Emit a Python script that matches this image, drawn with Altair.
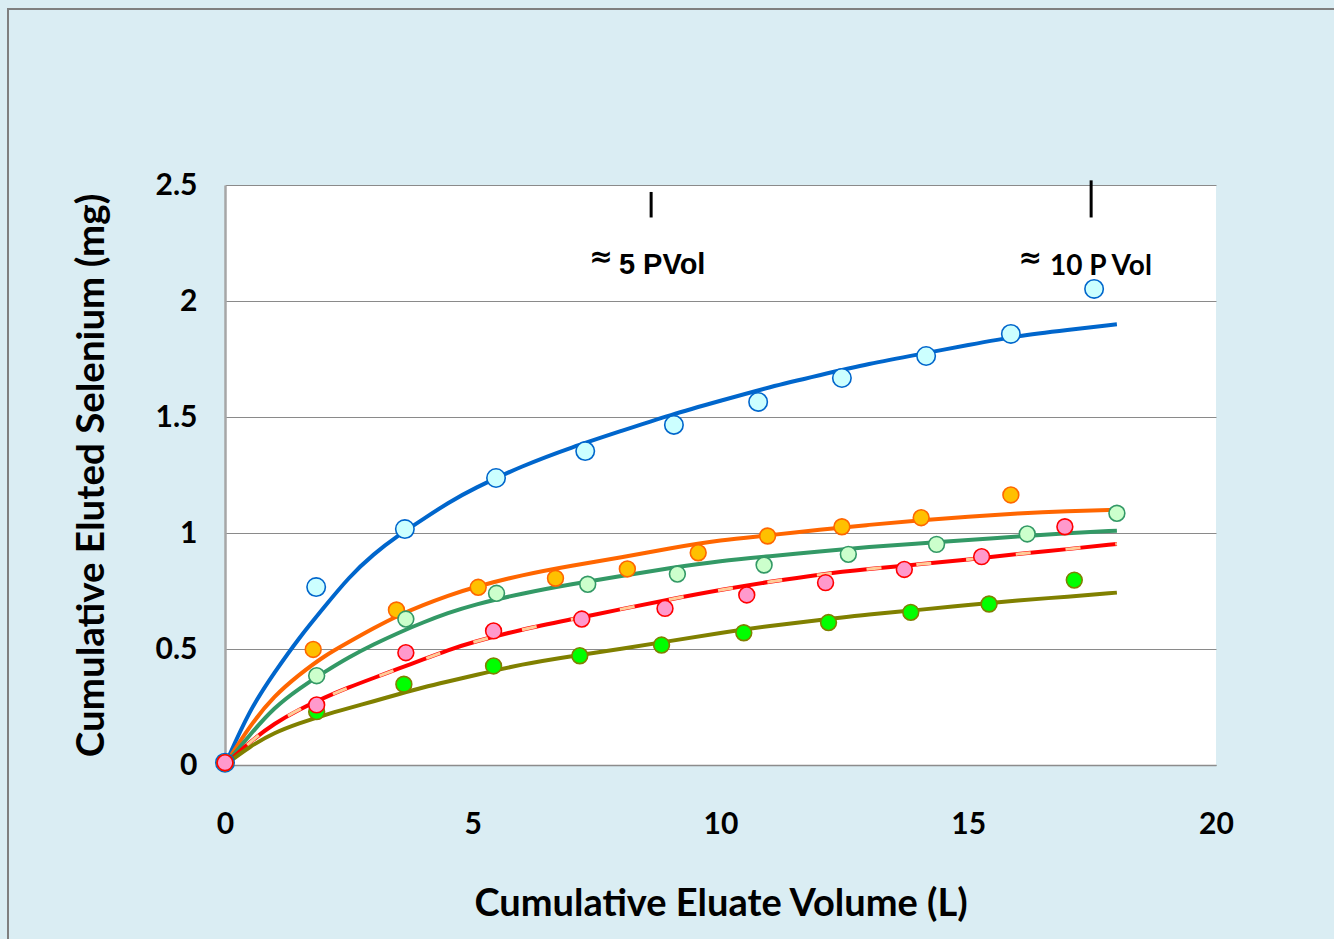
import altair as alt
import pandas as pd

# ---------------- data ----------------
line_x = [0, 0.5, 1, 1.5, 2, 2.5, 3, 3.5, 4, 4.5, 5, 6, 7, 8, 9, 10, 11, 12, 13, 14, 15, 16, 17, 18]
blue_line = [0, 0.24, 0.40, 0.55, 0.68, 0.81, 0.91, 0.99, 1.06, 1.13, 1.19, 1.29, 1.37, 1.44, 1.51, 1.57,
             1.63, 1.68, 1.73, 1.77, 1.81, 1.85, 1.875, 1.90]
orange_line = [0, 0.17, 0.30, 0.39, 0.47, 0.53, 0.59, 0.645, 0.69, 0.73, 0.765, 0.82, 0.86, 0.895, 0.935, 0.97,
               0.99, 1.015, 1.035, 1.055, 1.07, 1.085, 1.095, 1.10]
green_line = [0, 0.13, 0.25, 0.33, 0.40, 0.465, 0.52, 0.57, 0.615, 0.655, 0.69, 0.74, 0.78, 0.815, 0.85, 0.88,
              0.90, 0.92, 0.94, 0.955, 0.97, 0.985, 1.0, 1.01]
red_line = [0, 0.10, 0.18, 0.24, 0.29, 0.335, 0.375, 0.415, 0.455, 0.495, 0.53, 0.585, 0.628, 0.672, 0.715, 0.755,
            0.79, 0.822, 0.845, 0.865, 0.885, 0.91, 0.93, 0.953]
olive_line = [0, 0.08, 0.14, 0.18, 0.215, 0.245, 0.275, 0.305, 0.335, 0.36, 0.385, 0.435, 0.47, 0.50, 0.535, 0.57,
              0.60, 0.625, 0.65, 0.668, 0.69, 0.71, 0.725, 0.743]

blue_x = [0, 1.84, 3.63, 5.47, 7.27, 9.06, 10.76, 12.45, 14.15, 15.86, 17.54]
blue_y = [0.01, 0.767, 1.017, 1.237, 1.353, 1.466, 1.565, 1.668, 1.763, 1.858, 2.052]
orange_x = [0, 1.78, 3.46, 5.11, 6.67, 8.12, 9.55, 10.95, 12.45, 14.05, 15.86]
orange_y = [0.01, 0.498, 0.668, 0.766, 0.805, 0.845, 0.915, 0.987, 1.027, 1.066, 1.164]
green_x = [0, 1.85, 3.65, 5.48, 7.32, 9.13, 10.88, 12.58, 14.36, 16.19, 18.0]
green_y = [0.01, 0.385, 0.629, 0.740, 0.779, 0.823, 0.862, 0.908, 0.951, 0.996, 1.085]
lime_x = [0, 1.85, 3.61, 5.42, 7.16, 8.81, 10.47, 12.18, 13.84, 15.42, 17.14]
lime_y = [0.01, 0.23, 0.348, 0.427, 0.471, 0.517, 0.570, 0.614, 0.658, 0.694, 0.797]
pink_x = [0, 1.85, 3.65, 5.42, 7.20, 8.88, 10.53, 12.12, 13.71, 15.27, 16.95]
pink_y = [0.01, 0.259, 0.484, 0.578, 0.629, 0.675, 0.733, 0.786, 0.843, 0.898, 1.027]

x_ticks = [0, 5, 10, 15, 20]
y_ticks = [0, 0.5, 1, 1.5, 2, 2.5]

marker_x = [8.6, 17.48]
marker_top = [2.47, 2.52]
marker_bot = [2.36, 2.36]
approx_x = [7.59, 16.25]
approx_y = [2.185, 2.18]
label_x = [7.95, 16.65]
label_y = [2.118, 2.112]
label_text = ["5 PVol", "10 P Vol"]

# ---------------- frames ----------------
line_series = ["blue", "orange", "green", "red", "olive"]
line_vals = [blue_line, orange_line, green_line, red_line, olive_line]
line_colors = ["#0066CC", "#FF6600", "#339966", "#FF0000", "#808000"]
rows = []
for s, vals in zip(line_series, line_vals):
    for xv, yv in zip(line_x, vals):
        rows.append({"series": s, "x": xv, "y": yv})
lines_df = pd.DataFrame(rows)
red_df = lines_df[lines_df.series == "red"]

pt_series = ["orange", "green", "lime", "pink"]
pt_xs = [orange_x, green_x, lime_x, pink_x]
pt_ys = [orange_y, green_y, lime_y, pink_y]
pt_fill = ["#FFC000", "#CCFFCC", "#00FF00", "#FF99CC"]
pt_stroke = ["#FF6600", "#339966", "#808000", "#FF0000"]
prow = []
for s, xs, ys in zip(pt_series, pt_xs, pt_ys):
    for xv, yv in zip(xs, ys):
        prow.append({"series": s, "x": xv, "y": yv})
pts_df = pd.DataFrame(prow)
blue_df = pd.DataFrame({"x": blue_x, "y": blue_y})

marks_df = pd.DataFrame({"x": marker_x, "y": marker_top, "y2": marker_bot})
approx_df = pd.DataFrame({"x": approx_x, "y": approx_y, "t": ["≈", "≈"]})
lab_df = pd.DataFrame({"x": label_x, "y": label_y, "t": label_text})

xscale = alt.Scale(domain=[0, 20], nice=False, zero=False)
yscale = alt.Scale(domain=[0, 2.5], nice=False)

X = alt.X("x:Q", scale=xscale, axis=alt.Axis(
    values=x_ticks, title="Cumulative Eluate Volume (L)", grid=False, ticks=False, labelFlush=False,
    labelFont="Lato", labelFontSize=30, labelFontWeight="bold", labelColor="black",
    labelPadding=44, titleFont="Lato", titleFontSize=38, titleFontWeight="bold",
    titleColor="black", titlePadding=46, domainColor="#8c8c8c", domainWidth=1.5))
Y = alt.Y("y:Q", scale=yscale, axis=alt.Axis(
    values=y_ticks, format=".1~f", title="Cumulative Eluted Selenium (mg)", grid=True,
    gridColor="#8a8a8a", gridWidth=1, ticks=False, labelFlush=False,
    labelFont="Lato", labelFontSize=30, labelFontWeight="bold", labelColor="black",
    labelPadding=28, titleFont="Lato", titleFontSize=38.5, titleFontWeight="bold",
    titleColor="black", titlePadding=44, domainColor="#a6a6a6", domainWidth=2.5))

frame = alt.Chart(pd.DataFrame({"a": [0]})).mark_rect(
    fill=None, stroke="#7f7f7f", strokeWidth=2).encode(
    x=alt.value(-217), x2=alt.value(1200), y=alt.value(-176), y2=alt.value(900))

lines = alt.Chart(lines_df).mark_line(strokeWidth=4, interpolate="basis").encode(
    x=X, y=Y,
    color=alt.Color("series:N", scale=alt.Scale(domain=line_series, range=line_colors), legend=None),
)
dashes = alt.Chart(red_df).mark_line(strokeWidth=3, interpolate="basis", color="#FFCC99",
                                     strokeDash=[15, 35], strokeDashOffset=-30).encode(x="x:Q", y="y:Q")

blue_pts = alt.Chart(blue_df).mark_point(filled=True, size=340, shape="circle", fill="#CCFFFF",
                                         stroke="#0066CC", strokeWidth=1.6, opacity=1).encode(x="x:Q", y="y:Q")
pts = alt.Chart(pts_df).mark_point(filled=True, size=250, shape="circle", strokeWidth=1.6, opacity=1).encode(
    x="x:Q", y="y:Q",
    fill=alt.Fill("series:N", scale=alt.Scale(domain=pt_series, range=pt_fill), legend=None),
    stroke=alt.Stroke("series:N", scale=alt.Scale(domain=pt_series, range=pt_stroke), legend=None),
)

rules = alt.Chart(marks_df).mark_rule(strokeWidth=3, color="black").encode(x="x:Q", y="y:Q", y2="y2:Q")
approx = alt.Chart(approx_df).mark_text(font="DejaVu Sans", fontSize=28, fontWeight="bold",
                                        baseline="middle", align="center", color="black").encode(
    x="x:Q", y="y:Q", text="t:N")
labs5 = alt.Chart(lab_df.iloc[[0]]).mark_text(font="Liberation Sans", fontSize=29, fontWeight="bold",
                                              baseline="alphabetic", align="left", color="black").encode(
    x="x:Q", y="y:Q", text="t:N")
labs10 = alt.Chart(lab_df.iloc[[1]]).mark_text(font="Lato", fontSize=28, fontWeight="bold",
                                               baseline="alphabetic", align="left", color="black").encode(
    x="x:Q", y="y:Q", text="t:N")

chart = alt.layer(frame, lines, dashes, blue_pts, pts, rules, approx, labs5, labs10).properties(
    width=991, height=580,
    autosize=alt.AutoSizeParams(type="none"),
    padding={"left": 225, "top": 185, "right": 118, "bottom": 174},
    background="#DAEDF3",
).configure_view(fill="white", stroke=None)

chart.save("out.html", embed_options={"renderer": "svg", "actions": False})
